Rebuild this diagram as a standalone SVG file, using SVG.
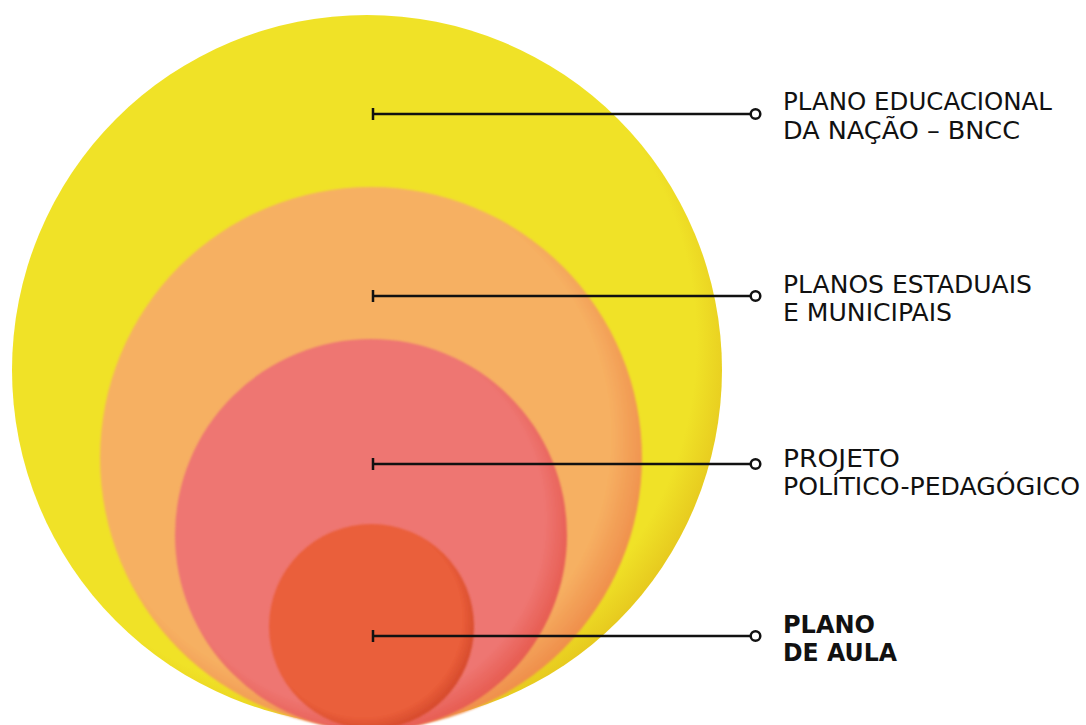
<svg xmlns="http://www.w3.org/2000/svg" width="1086" height="725" viewBox="0 0 1086 725">
  <defs>
    <radialGradient id="gY" cx="0.46" cy="0.46" r="0.56">
      <stop offset="0" stop-color="#F0E227"/>
      <stop offset="0.9" stop-color="#F0E227"/>
      <stop offset="1" stop-color="#E6C81E"/>
    </radialGradient>
    <radialGradient id="gO" cx="0.46" cy="0.46" r="0.56">
      <stop offset="0" stop-color="#F6B062"/>
      <stop offset="0.86" stop-color="#F6B062"/>
      <stop offset="1" stop-color="#EF8C4A"/>
    </radialGradient>
    <radialGradient id="gP" cx="0.46" cy="0.46" r="0.56">
      <stop offset="0" stop-color="#EE7672"/>
      <stop offset="0.86" stop-color="#EE7672"/>
      <stop offset="1" stop-color="#E65A4E"/>
    </radialGradient>
    <radialGradient id="gR" cx="0.46" cy="0.46" r="0.56">
      <stop offset="0" stop-color="#EA5E3A"/>
      <stop offset="0.86" stop-color="#EA5E3A"/>
      <stop offset="1" stop-color="#D4482A"/>
    </radialGradient>
    <filter id="soft" x="-5%" y="-5%" width="110%" height="110%">
      <feGaussianBlur stdDeviation="1.2"/>
    </filter>
  </defs>
  <style>
    .lbl { font-family: "DejaVu Sans", "Liberation Sans", sans-serif; font-size: 24px; fill: #111111; }
    .bold { font-weight: bold; }
    .ln { stroke: #111111; stroke-width: 2.5; fill: none; }
    .end { stroke: #111111; stroke-width: 2.5; fill: #ffffff; }
  </style>

  <g id="circle-bncc">
    <circle cx="367" cy="370" r="355" fill="url(#gY)"/>
  </g>
  <g id="circle-estaduais">
    <circle cx="371" cy="458" r="271" fill="url(#gO)" filter="url(#soft)"/>
  </g>
  <g id="circle-ppp">
    <circle cx="371" cy="535" r="196" fill="url(#gP)" filter="url(#soft)"/>
  </g>
  <g id="circle-aula">
    <circle cx="371.5" cy="626.5" r="102.5" fill="url(#gR)" filter="url(#soft)"/>
  </g>

  <g id="connectors">
    <path class="ln" d="M373 114 H750 M373 108 V120"/>
    <circle class="end" cx="755.5" cy="114" r="4.8"/>
    <path class="ln" d="M373 296 H750 M373 290 V302"/>
    <circle class="end" cx="755.5" cy="296" r="4.8"/>
    <path class="ln" d="M373 464 H750 M373 458 V470"/>
    <circle class="end" cx="755.5" cy="464" r="4.8"/>
    <path class="ln" d="M373 636 H750 M373 630 V642"/>
    <circle class="end" cx="755.5" cy="636" r="4.8"/>
  </g>

  <g id="label-bncc">
    <text class="lbl" x="783" y="110" textLength="269" lengthAdjust="spacingAndGlyphs">PLANO EDUCACIONAL</text>
    <text class="lbl" x="783" y="139" textLength="237" lengthAdjust="spacingAndGlyphs">DA NAÇÃO – BNCC</text>
  </g>
  <g id="label-estaduais">
    <text class="lbl" x="783" y="293" textLength="249" lengthAdjust="spacingAndGlyphs">PLANOS ESTADUAIS</text>
    <text class="lbl" x="783" y="321" textLength="169" lengthAdjust="spacingAndGlyphs">E MUNICIPAIS</text>
  </g>
  <g id="label-ppp">
    <text class="lbl" x="783" y="467" textLength="117" lengthAdjust="spacingAndGlyphs">PROJETO</text>
    <text class="lbl" x="783" y="495" textLength="297" lengthAdjust="spacingAndGlyphs">POLÍTICO-PEDAGÓGICO</text>
  </g>
  <g id="label-aula">
    <text class="lbl bold" x="783" y="633" textLength="92" lengthAdjust="spacingAndGlyphs">PLANO</text>
    <text class="lbl bold" x="783" y="661" textLength="114" lengthAdjust="spacingAndGlyphs">DE AULA</text>
  </g>
</svg>
